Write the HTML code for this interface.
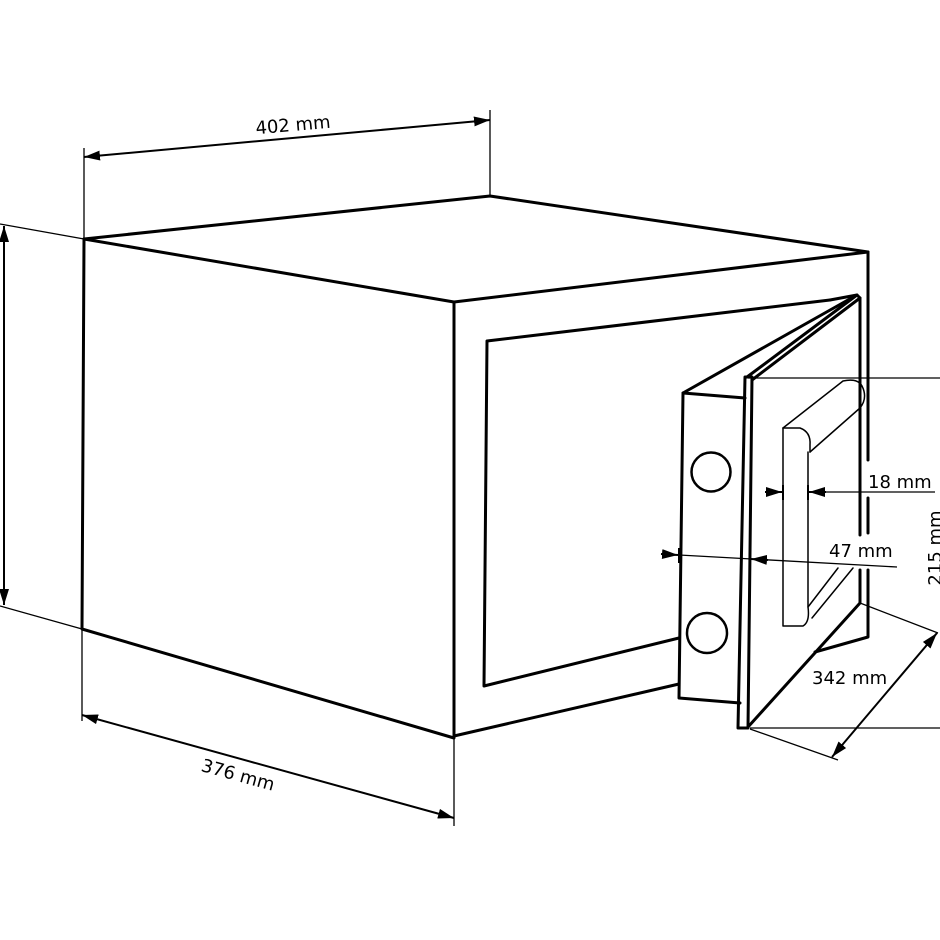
<!DOCTYPE html>
<html><head><meta charset="utf-8"><style>html,body{margin:0;padding:0;background:#fff}svg{display:block}text{font-family:"DejaVu Sans","Liberation Sans",sans-serif;font-size:18px;fill:#000}</style></head>
<body>
<svg width="940" height="940" viewBox="0 0 940 940" xmlns="http://www.w3.org/2000/svg">
<defs>
<marker id="b" viewBox="0 0 16 10" refX="16" refY="5" markerWidth="16" markerHeight="10" orient="auto-start-reverse" markerUnits="userSpaceOnUse"><path d="M0,0L16,5L0,10Z" fill="#000"/></marker>
</defs>
<g fill="none" stroke="#000" stroke-linejoin="round" stroke-linecap="round">
<g stroke-width="3">
<path d="M84,239 L490,196 L868,252"/>
<path d="M84,239 L454,302 L868,252"/>
<path d="M84,239 L82,629 L454,738 L454,302"/>
<path d="M868,252 L868,460 M868,498 L868,533 M868,570 L868,637 L815,652"/>
<path d="M830,300 L487,341 L484,686 L679,638"/>
<path d="M454,736 L679,684"/>
<path d="M855,296 L683,393 L679,698 L740,703"/>
<path d="M683,393 L745,398"/>
<path d="M745,377 L738,728 L748,728 L752,377 Z"/>
<path d="M747,377 L857,295 L860,298 L752,380"/>
<path d="M860,298 L860,535 M860,570 L860,603 L748,727"/>
<path d="M830,300 L857,295"/>
</g>
<circle cx="711" cy="472" r="19.5" stroke-width="2.5"/>
<circle cx="707" cy="633" r="20" stroke-width="2.5"/>
<g stroke-width="1.5">
<path d="M783,428 L843,381 Q858,378 862,386 Q868,398 860,408 L810,452"/>
<path d="M783,428 L800,428 Q811,432 810,445 L810,452"/>
<path d="M783,428 L783,626 L803,626 Q810,622 808,607 L808,452"/>
<path d="M808,607 L838,568 M812,618 L853,568"/>
</g>
</g>
<g fill="none" stroke="#000" stroke-width="1.3">
<path d="M84,148 L84,239 M490,110 L490,196"/>
<path d="M84,157 L490,120" stroke-width="2" marker-start="url(#b)" marker-end="url(#b)"/>
<path d="M0,224 L84,239 M0,606 L82,629"/>
<path d="M4,226 L4,605" stroke-width="2" marker-start="url(#b)" marker-end="url(#b)"/>
<path d="M82,629 L82,721 M454,738 L454,826"/>
<path d="M82,715 L454,818" stroke-width="2" marker-start="url(#b)" marker-end="url(#b)"/>
<path d="M748,378 L940,378 M750,728 L940,728"/>
<path d="M860,603 L938,633 M750,729 L838,760"/>
<path d="M937,633 L832,757" stroke-width="2" marker-start="url(#b)" marker-end="url(#b)"/>
<path d="M808,492 L935,492"/>
<path d="M783,485 L783,500 M808,485 L808,500" stroke-width="2"/>
<path d="M765,492 L782,492" stroke-width="2" marker-end="url(#b)"/>
<path d="M826,492 L809,492" stroke-width="2" marker-end="url(#b)"/>
<path d="M679,555 L897,567"/>
<path d="M679,548 L679,563 M750,551 L750,567" stroke-width="2"/>
<path d="M661,554 L678,555" stroke-width="2" marker-end="url(#b)"/>
<path d="M768,560 L751,559" stroke-width="2" marker-end="url(#b)"/>
</g>
<text x="293" y="131" text-anchor="middle" transform="rotate(-5 293 125)">402 mm</text>
<text x="238" y="781" text-anchor="middle" transform="rotate(15.5 238 775)">376 mm</text>
<text x="868" y="488">18 mm</text>
<text x="829" y="557">47 mm</text>
<text x="812" y="684">342 mm</text>
<text x="948" y="555" text-anchor="middle" transform="rotate(-90 941 555)">215 mm</text>
</svg>
</body></html>
